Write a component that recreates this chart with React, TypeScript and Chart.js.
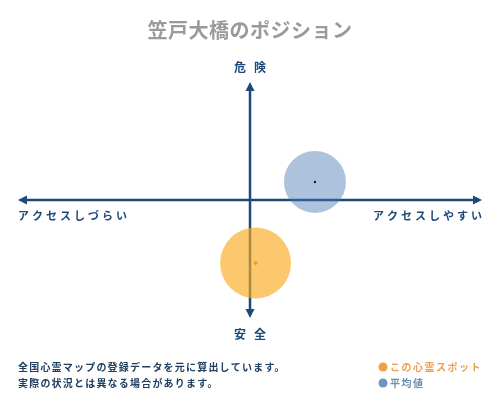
import React, { useEffect, useRef } from "react";
import { Chart, registerables } from "chart.js";

Chart.register(...registerables);

const titleText = "笠戸大橋のポジション";
const yAxisLabels = ["危険", "安全"];
const xAxisLabels = ["アクセスしづらい", "アクセスしやすい"];
const noteLines = [
  "全国心霊マップの登録データを元に算出しています。",
  "実際の状況とは異なる場合があります。",
];
const seriesNames = ["この心霊スポット", "平均値"];
const spotX = [0.024];
const spotY = [-0.534];
const spotR = [35.5];
const avgX = [0.28];
const avgY = [0.153];
const avgR = [31];

const NAVY = "#1b4a7a";
const FONT = '"Noto Sans CJK JP", serif';

function drawArrow(ctx: CanvasRenderingContext2D, x1: number, y1: number, x2: number, y2: number) {
  const ang = Math.atan2(y2 - y1, x2 - x1);
  const len = 9;
  const w = 4.5;
  ctx.beginPath();
  ctx.moveTo(x2, y2);
  ctx.lineTo(x2 - len * Math.cos(ang) + w * Math.sin(ang), y2 - len * Math.sin(ang) - w * Math.cos(ang));
  ctx.lineTo(x2 - len * Math.cos(ang) - w * Math.sin(ang), y2 - len * Math.sin(ang) + w * Math.cos(ang));
  ctx.closePath();
  ctx.fill();
}

const axesPlugin = {
  id: "quadAxes",
  beforeDatasetsDraw(chart: any) {
    const { ctx, scales } = chart;
    const cx = scales.x.getPixelForValue(0);
    const cy = scales.y.getPixelForValue(0);
    const l = scales.x.getPixelForValue(-1);
    const r = scales.x.getPixelForValue(1);
    const t = scales.y.getPixelForValue(1);
    const b = scales.y.getPixelForValue(-1);
    ctx.save();
    ctx.strokeStyle = NAVY;
    ctx.fillStyle = NAVY;
    ctx.lineWidth = 2.5;
    ctx.beginPath();
    ctx.moveTo(l + 4, cy);
    ctx.lineTo(r - 4, cy);
    ctx.moveTo(cx, t + 4);
    ctx.lineTo(cx, b - 4);
    ctx.stroke();
    drawArrow(ctx, cx, cy, l, cy);
    drawArrow(ctx, cx, cy, r, cy);
    drawArrow(ctx, cx, cy, cx, t);
    drawArrow(ctx, cx, cy, cx, b);
    ctx.restore();
  },
  afterDraw(chart: any) {
    const { ctx, scales } = chart;
    const cx = scales.x.getPixelForValue(0);
    const cy = scales.y.getPixelForValue(0);
    const l = scales.x.getPixelForValue(-1);
    const r = scales.x.getPixelForValue(1);
    const t = scales.y.getPixelForValue(1);
    const b = scales.y.getPixelForValue(-1);
    ctx.save();
    ctx.textBaseline = "middle";
    // title
    ctx.fillStyle = "#9a9a9a";
    ctx.font = `bold 20px ${FONT}`;
    ctx.textAlign = "center";
    (ctx as any).letterSpacing = "0.5px";
    ctx.fillText(titleText, 250, 30);
    // y labels
    ctx.fillStyle = NAVY;
    ctx.font = `bold 12px ${FONT}`;
    (ctx as any).letterSpacing = "8px";
    ctx.textAlign = "center";
    ctx.fillText(yAxisLabels[0], cx + 4, t - 15);
    ctx.fillText(yAxisLabels[1], cx + 4, b + 16);
    // x labels
    ctx.font = `bold 11px ${FONT}`;
    (ctx as any).letterSpacing = "3px";
    ctx.textAlign = "left";
    ctx.fillText(xAxisLabels[0], l, cy + 16);
    ctx.textAlign = "right";
    ctx.fillText(xAxisLabels[1], r + 3, cy + 16);
    // notes
    ctx.font = `bold 10px ${FONT}`;
    (ctx as any).letterSpacing = "1.2px";
    ctx.textAlign = "left";
    ctx.fillStyle = "#1f3f60";
    ctx.fillText(noteLines[0], 18, 367);
    ctx.fillText(noteLines[1], 18, 383);
    // legend
    const ds = chart.data.datasets;
    ctx.beginPath();
    ctx.fillStyle = "#f0a040";
    ctx.arc(383, 367, 4.5, 0, Math.PI * 2);
    ctx.fill();
    ctx.beginPath();
    ctx.fillStyle = "#6a96c0";
    ctx.arc(383, 383, 4.5, 0, Math.PI * 2);
    ctx.fill();
    ctx.font = `bold 10px ${FONT}`;
    (ctx as any).letterSpacing = "1.5px";
    ctx.fillStyle = "#eaa050";
    ctx.fillText(ds[0].label, 390, 367);
    ctx.fillStyle = "#6a8db0";
    ctx.fillText(ds[1].label, 390, 383);
    ctx.restore();
  },
};

export default function App() {
  const ref = useRef<HTMLCanvasElement>(null);
  useEffect(() => {
    if (!ref.current) return;
    const chart = new Chart(ref.current, {
      type: "bubble",
      data: {
        datasets: [
          {
            label: seriesNames[0],
            data: spotX.map((x, i) => ({ x, y: spotY[i], r: spotR[i] })),
            backgroundColor: "rgba(250,170,30,0.65)",
            borderWidth: 0,
            order: 2,
          },
          {
            label: seriesNames[1],
            data: avgX.map((x, i) => ({ x, y: avgY[i], r: avgR[i] })),
            backgroundColor: "rgba(70,120,180,0.45)",
            borderWidth: 0,
            order: 3,
          },
          {
            type: "scatter",
            label: "spot-center",
            data: spotX.map((x, i) => ({ x, y: spotY[i] })),
            pointStyle: "rectRot",
            pointRadius: 2.5,
            backgroundColor: "#f0a020",
            borderWidth: 0,
            order: 0,
          } as any,
          {
            type: "scatter",
            label: "avg-center",
            data: avgX.map((x, i) => ({ x, y: avgY[i] })),
            pointRadius: 1.2,
            backgroundColor: "#222",
            borderWidth: 0,
            order: 1,
          } as any,
        ],
      },
      options: {
        animation: false,
        responsive: false,
        layout: { autoPadding: false, padding: { left: 18, right: 18, top: 82, bottom: 82 } },
        scales: {
          x: { type: "linear", min: -1, max: 1, display: false },
          y: { type: "linear", min: -1, max: 1, display: false },
        },
        plugins: {
          legend: { display: false },
          title: { display: false },
          tooltip: { enabled: false },
        },
      },
      plugins: [axesPlugin],
    });
    return () => chart.destroy();
  }, []);
  return (
    <div style={{ position: "absolute", left: 0, top: 0, width: 500, height: 400, background: "#fff" }}>
      <canvas ref={ref} width={500} height={400} style={{ width: 500, height: 400, display: "block" }} />
    </div>
  );
}
